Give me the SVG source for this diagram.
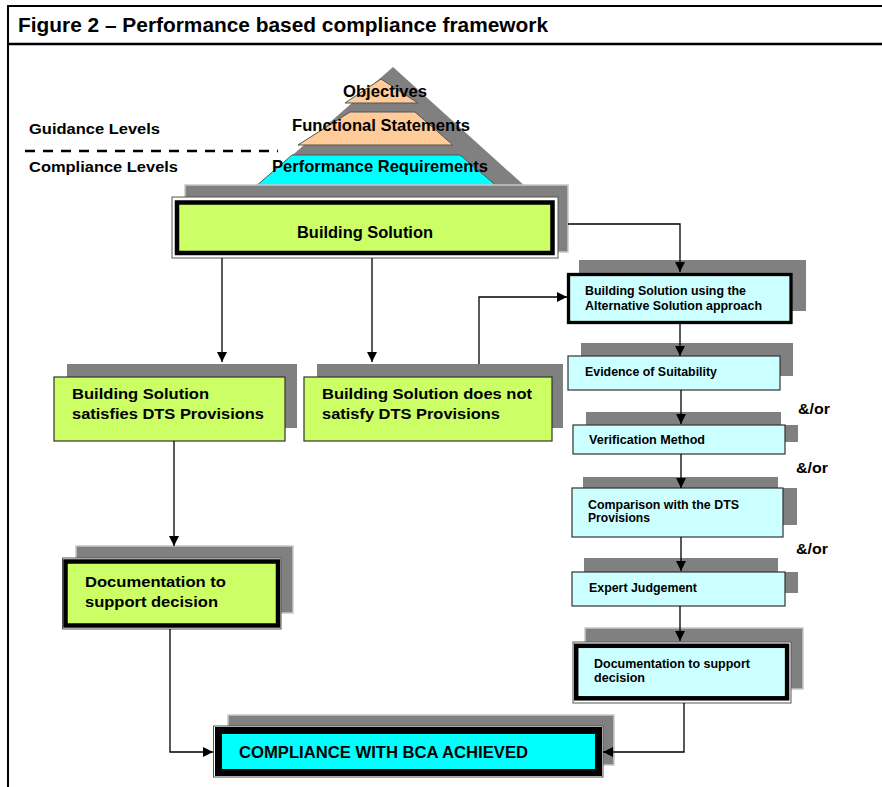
<svg xmlns="http://www.w3.org/2000/svg" width="882" height="787" viewBox="0 0 882 787">
<defs>
<style>
.t{font-family:"Liberation Sans",Arial,sans-serif;font-weight:bold;fill:#000}
.big{font-size:16.5px}
.mid{font-size:15.5px}
.sm{font-size:12.5px}
.sh{fill:#808080}
.sho{fill:#808080;stroke:#c8c8c8;stroke-width:1.5}
.outer{fill:#fff;stroke:#555;stroke-width:1}
.lime{fill:#CCFF66}
.lcyan{fill:#CCFFFF}
.thin{stroke:#333;stroke-width:1.2}
.thick{stroke:#000;stroke-width:4.5}
.conn{stroke:#000;stroke-width:1.3;fill:none}
</style>
<marker id="ah" markerUnits="userSpaceOnUse" markerWidth="10" markerHeight="10" refX="10" refY="5" orient="auto">
<path d="M0,0 L10,5 L0,10 z" fill="#000"/>
</marker>
</defs>
<rect x="0" y="0" width="882" height="787" fill="#fff"/>
<g id="frame">
<line x1="8" y1="6" x2="882" y2="6" stroke="#000" stroke-width="2"/>
<line x1="8" y1="44" x2="882" y2="44" stroke="#000" stroke-width="2.5"/>
<line x1="8" y1="5" x2="8" y2="787" stroke="#000" stroke-width="2"/>
<text class="t" x="18" y="32" font-size="19.5" textLength="530" lengthAdjust="spacingAndGlyphs">Figure 2 – Performance based compliance framework</text>
</g>
<g id="levels">
<text class="t" x="29" y="134" font-size="14.5" textLength="131" lengthAdjust="spacingAndGlyphs">Guidance Levels</text>
<text class="t" x="29" y="172" font-size="14.5" textLength="149" lengthAdjust="spacingAndGlyphs">Compliance Levels</text>
<line x1="25" y1="151" x2="278" y2="151" stroke="#000" stroke-width="2.5" stroke-dasharray="10 8"/>
</g>
<g id="pyramid">
<polygon class="sh" points="393,67 527,188 255,188"/>
<g id="objectives">
<polygon points="381,79 418,103 345,103" fill="#FFCC99" stroke="#555" stroke-width="1"/>
<text class="t big" x="343" y="97" textLength="84" lengthAdjust="spacingAndGlyphs">Objectives</text>
</g>
<g id="functional">
<polygon points="350,112 415,112 453,145 298,145" fill="#FFCC99" stroke="#555" stroke-width="1"/>
<text class="t big" x="292" y="131" textLength="178" lengthAdjust="spacingAndGlyphs">Functional Statements</text>
</g>
<g id="performance">
<polygon points="292,155 460,155 498,187 255,187" fill="#00FFFF" stroke="#555" stroke-width="1"/>
<text class="t big" x="272" y="172" textLength="216" lengthAdjust="spacingAndGlyphs">Performance Requirements</text>
</g>
</g>
<g id="building-solution">
<rect class="sho" x="185" y="185" width="383" height="67"/>
<rect class="outer" x="172" y="197" width="386" height="61"/>
<rect class="lime thick" x="177" y="202.5" width="375.5" height="50.5"/>
<text class="t big" x="297" y="238" textLength="136" lengthAdjust="spacingAndGlyphs">Building Solution</text>
</g>
<g id="satisfies">
<rect class="sh" x="67" y="364" width="230" height="64"/>
<rect class="lime thin" x="54" y="377" width="231" height="64"/>
<text class="t mid" x="72" y="399" textLength="137" lengthAdjust="spacingAndGlyphs">Building Solution</text>
<text class="t mid" x="72" y="419" textLength="192" lengthAdjust="spacingAndGlyphs">satisfies DTS Provisions</text>
</g>
<g id="not-satisfies">
<rect class="sh" x="317" y="364" width="246" height="64"/>
<rect class="lime thin" x="304" y="377" width="248" height="64"/>
<text class="t mid" x="322" y="399" textLength="210" lengthAdjust="spacingAndGlyphs">Building Solution does not</text>
<text class="t mid" x="322" y="419" textLength="178" lengthAdjust="spacingAndGlyphs">satisfy DTS Provisions</text>
</g>
<g id="doc-left">
<rect class="sho" x="76" y="546" width="217" height="67"/>
<rect class="outer" x="62.5" y="558" width="218.5" height="71"/>
<rect class="lime thick" x="65.5" y="561.5" width="212.5" height="64"/>
<text class="t mid" x="85" y="587" textLength="141" lengthAdjust="spacingAndGlyphs">Documentation to</text>
<text class="t mid" x="85" y="607" textLength="133" lengthAdjust="spacingAndGlyphs">support decision</text>
</g>
<g id="alternative">
<rect class="sh" x="579" y="260" width="227" height="51"/>
<rect class="lcyan" x="568.5" y="274.5" width="222.5" height="48" stroke="#000" stroke-width="3.3"/>
<text class="t sm" x="585" y="295" textLength="161" lengthAdjust="spacingAndGlyphs">Building Solution using the</text>
<text class="t sm" x="585" y="310" textLength="177" lengthAdjust="spacingAndGlyphs">Alternative Solution approach</text>
</g>
<g id="evidence">
<rect class="sh" x="581" y="343" width="212" height="33"/>
<rect class="lcyan thin" x="568" y="356" width="212" height="34"/>
<text class="t sm" x="585" y="376" textLength="132" lengthAdjust="spacingAndGlyphs">Evidence of Suitability</text>
</g>
<g id="verification">
<rect class="sh" x="586" y="412" width="212" height="30"/>
<rect x="781" y="393" width="70" height="32" fill="#fff"/>
<rect class="lcyan thin" x="573" y="425" width="212" height="29"/>
<text class="t sm" x="589" y="444" textLength="116" lengthAdjust="spacingAndGlyphs">Verification Method</text>
<text class="t" x="798" y="414" font-size="15" textLength="32" lengthAdjust="spacingAndGlyphs">&amp;/or</text>
</g>
<g id="comparison">
<rect class="sh" x="583" y="477" width="214" height="48"/>
<rect x="778" y="458" width="70" height="30" fill="#fff"/>
<rect class="lcyan thin" x="572" y="488" width="211" height="49"/>
<text class="t sm" x="588" y="509" textLength="151" lengthAdjust="spacingAndGlyphs">Comparison with the DTS</text>
<text class="t sm" x="588" y="522" textLength="62" lengthAdjust="spacingAndGlyphs">Provisions</text>
<text class="t" x="796" y="473" font-size="15" textLength="32" lengthAdjust="spacingAndGlyphs">&amp;/or</text>
</g>
<g id="expert">
<rect class="sh" x="584" y="558" width="214" height="35"/>
<rect x="778" y="538" width="70" height="34" fill="#fff"/>
<rect class="lcyan thin" x="572" y="572" width="213" height="34"/>
<text class="t sm" x="589" y="592" textLength="108" lengthAdjust="spacingAndGlyphs">Expert Judgement</text>
<text class="t" x="796" y="554" font-size="15" textLength="32" lengthAdjust="spacingAndGlyphs">&amp;/or</text>
</g>
<g id="doc-right">
<rect class="sho" x="585" y="628" width="218" height="61"/>
<rect class="outer" x="573" y="642" width="218" height="61"/>
<rect class="lcyan thick" x="576.2" y="645.8" width="210.9" height="52.5"/>
<text class="t sm" x="594" y="668" textLength="156" lengthAdjust="spacingAndGlyphs">Documentation to support</text>
<text class="t sm" x="594" y="682" textLength="51" lengthAdjust="spacingAndGlyphs">decision</text>
</g>
<g id="compliance">
<rect class="sho" x="228" y="715" width="386" height="50"/>
<rect class="outer" x="213.5" y="726" width="389.5" height="51"/>
<rect x="218.5" y="730.5" width="380" height="42" fill="#00FFFF" stroke="#000" stroke-width="7"/>
<text class="t big" x="239" y="758" textLength="289" lengthAdjust="spacingAndGlyphs">COMPLIANCE WITH BCA ACHIEVED</text>
</g>
<g id="connectors">
<path class="conn" d="M222,258 V362" marker-end="url(#ah)"/>
<path class="conn" d="M372,258 V362" marker-end="url(#ah)"/>
<path class="conn" d="M568,224 H680 V272" marker-end="url(#ah)"/>
<path class="conn" d="M479,364 V297 H567" marker-end="url(#ah)"/>
<path class="conn" d="M680,324 V356" marker-end="url(#ah)"/>
<path class="conn" d="M681,390 V424" marker-end="url(#ah)"/>
<path class="conn" d="M681,454 V488" marker-end="url(#ah)"/>
<path class="conn" d="M681,537 V571" marker-end="url(#ah)"/>
<path class="conn" d="M680,606 V641" marker-end="url(#ah)"/>
<path class="conn" d="M174,441 V546" marker-end="url(#ah)"/>
<path class="conn" d="M170,629 V752 H213" marker-end="url(#ah)"/>
<path class="conn" d="M684,703 V752 H603" marker-end="url(#ah)"/>
</g>
</svg>
